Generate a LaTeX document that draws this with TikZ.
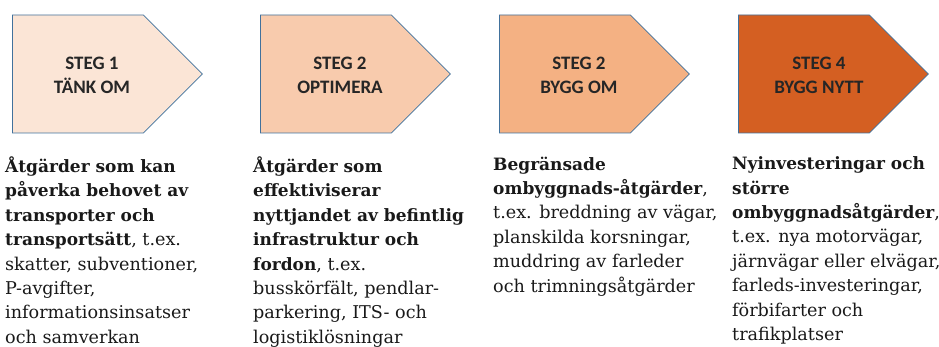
\documentclass[tikz,border=0pt]{standalone}
\usepackage{fontspec}
\setmainfont{DejaVu Serif}
\newfontfamily\calibri{Carlito}
\usepackage{tikz}
\usetikzlibrary{shapes.symbols}
\usepackage{xcolor}
\definecolor{steg1}{HTML}{FBE5D6}
\definecolor{steg2}{HTML}{F8CBAD}
\definecolor{steg3}{HTML}{F4B183}
\definecolor{steg4}{HTML}{D45F22}
\definecolor{stegline}{HTML}{41719C}
\definecolor{stegtext}{HTML}{262626}
\newcommand\fet[1]{{\fontsize{17}{24.4}\selectfont\bfseries #1}}

\begin{document}
\begin{tikzpicture}[x=1pt,y=-1pt,
	stegbox/.style={signal,signal to=east,signal pointer angle=90,draw=stegline,line width=0.8pt,
		minimum width=190pt,minimum height=118pt,inner sep=0pt,anchor=west},
	steglabel/.style={align=center,font=\calibri\bfseries\fontsize{19}{24}\selectfont,text=stegtext,inner sep=0pt},
	desc/.style={align=left,anchor=north west,inner sep=0pt,text=black!90,font=\fontsize{17.6}{24.4}\selectfont}]
		\useasboundingbox (0,0) rectangle (939,347);
		% Steps
		  \node (S1) at (12, 74) [stegbox, fill=steg1] {};
		  \node (S2) at (260, 74) [stegbox, fill=steg2] {};
		  \node (S3) at (499, 74) [stegbox, fill=steg3] {};
		  \node (S4) at (738, 74) [stegbox, fill=steg4] {};
		  
		  \node (L1) at (92, 75) [steglabel] {STEG 1\\TÄNK OM};
		  \node (L2) at (340, 75) [steglabel] {STEG 2\\OPTIMERA};
		  \node (L3) at (579, 75) [steglabel] {STEG 2\\BYGG OM};
		  \node (L4) at (819, 75) [steglabel] {STEG 4\\BYGG NYTT};
		
		% Descriptions
		  \node (D1) at (5, 156.5) [desc] {\fet{Åtgärder som kan}\\
		    \fet{påverka behovet av}\\
		    \fet{transporter och}\\
		    \fet{transportsätt}, t.ex.\\
		    skatter, subventioner,\\
		    P-avgifter,\\
		    informationsinsatser\\
		    och samverkan};
		  \node (D2) at (253, 156.5) [desc] {\fet{Åtgärder som}\\
		    \fet{effektiviserar}\\
		    \fet{nyttjandet av befintlig}\\
		    \fet{infrastruktur och}\\
		    \fet{fordon}, t.ex.\\
		    busskörfält, pendlar-\\
		    parkering, ITS- och\\
		    logistiklösningar};
		  \node (D3) at (493, 156.5) [desc] {\fet{Begränsade}\\
		    \fet{ombyggnads-åtgärder},\\
		    t.ex. breddning av vägar,\\
		    planskilda korsningar,\\
		    muddring av farleder\\
		    och trimningsåtgärder};
		  \node (D4) at (732, 156.5) [desc] {\fet{Nyinvesteringar och}\\
		    \fet{större}\\
		    \fet{ombyggnadsåtgärder},\\
		    t.ex. nya motorvägar,\\
		    järnvägar eller elvägar,\\
		    farleds-investeringar,\\
		    förbifarter och\\
		    trafikplatser};
		  
		\end{tikzpicture}
\end{document}
